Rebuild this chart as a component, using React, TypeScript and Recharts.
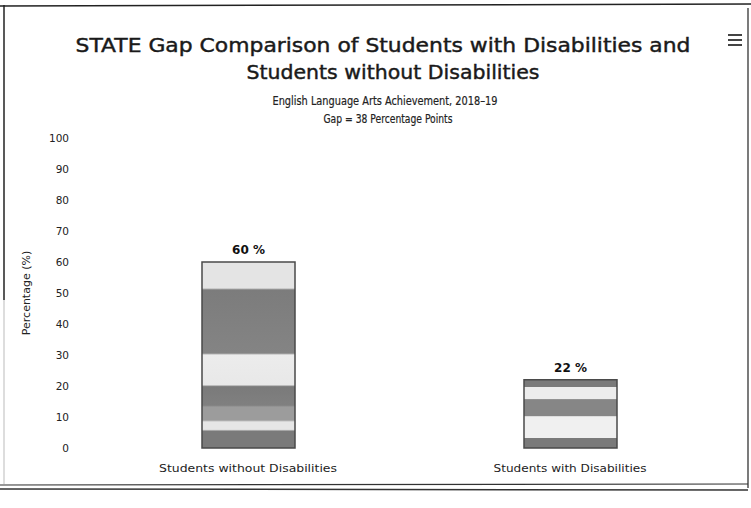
import { BarChart, Bar, XAxis, YAxis, Cell, LabelList } from 'recharts';

const categories = ['Students without Disabilities', 'Students with Disabilities'];
const percents = [60, 22];
const yTicks = [0, 10, 20, 30, 40, 50, 60, 70, 80, 90, 100];

const titleLines = ['STATE Gap Comparison of Students with Disabilities and', 'Students without Disabilities'];
const subtitleLines = ['English Language Arts Achievement, 2018\u201319', 'Gap = 38 Percentage Points'];

// light/dark halftone bands down each bar: [offset, colour]
const bandStops: [number, string][][] = [
  [
    [0, '#e4e4e4'], [0.14, '#e4e4e4'], [0.15, '#7c7c7c'], [0.49, '#848484'], [0.5, '#ececec'],
    [0.66, '#e8e8e8'], [0.67, '#7a7a7a'], [0.77, '#808080'], [0.78, '#9c9c9c'], [0.85, '#9c9c9c'],
    [0.86, '#e6e6e6'], [0.9, '#e6e6e6'], [0.91, '#7a7a7a'], [1, '#7a7a7a'],
  ],
  [
    [0, '#7a7a7a'], [0.1, '#7a7a7a'], [0.11, '#ececec'], [0.28, '#ececec'], [0.29, '#868686'],
    [0.53, '#868686'], [0.54, '#f0f0f0'], [0.85, '#f0f0f0'], [0.86, '#7a7a7a'], [1, '#7a7a7a'],
  ],
];

const catLabelWidth = [178, 153];

const CategoryTick = (props: any) => {
  const { x, y, payload, index } = props;
  return (
    <text
      x={x}
      y={y + 16}
      textAnchor="middle"
      fontSize={11}
      fill="#222"
      textLength={catLabelWidth[index]}
      lengthAdjust="spacingAndGlyphs"
    >
      {payload.value}
    </text>
  );
};

export default function App() {
  const data = categories.map((name, i) => ({ name, value: percents[i] }));

  return (
    <div
      style={{
        position: 'absolute',
        left: 0,
        top: 0,
        width: 751,
        height: 508,
        background: '#fff',
        fontFamily: '"DejaVu Sans", sans-serif',
      }}
    >
      <svg width={751} height={508} style={{ position: 'absolute', left: 0, top: 0 }}>
        <defs>
          {bandStops.map((stops, i) => (
            <linearGradient key={i} id={`band${i}`} x1="0" y1="0" x2="0" y2="1">
              {stops.map(([o, c], j) => (
                <stop key={j} offset={o} stopColor={c} />
              ))}
            </linearGradient>
          ))}
        </defs>
        {/* frame */}
        <line x1={0} y1={6} x2={751} y2={4} stroke="#222" strokeWidth={1.5} />
        <line x1={4} y1={5} x2={4} y2={300} stroke="#222" strokeWidth={1.5} />
        <line x1={4} y1={300} x2={4} y2={484} stroke="#bbb" strokeWidth={1} />
        <line x1={748} y1={8} x2={748} y2={488} stroke="#222" strokeWidth={1.2} />
        <line x1={0} y1={485} x2={748} y2={484} stroke="#333" strokeWidth={1.2} />
        <line x1={0} y1={489} x2={748} y2={490} stroke="#333" strokeWidth={1.5} />

        <g fill="#1a1a1a" stroke="#1a1a1a" strokeWidth={0.45} textAnchor="middle" fontSize={20}>
          <text x={383} y={52} textLength={615} lengthAdjust="spacingAndGlyphs">
            {titleLines[0]}
          </text>
          <text x={393} y={79} textLength={293} lengthAdjust="spacingAndGlyphs">
            {titleLines[1]}
          </text>
        </g>
        <g fill="#222" stroke="#222" strokeWidth={0.2} textAnchor="middle" fontSize={12}>
          <text x={385} y={105} textLength={225} lengthAdjust="spacingAndGlyphs">
            {subtitleLines[0]}
          </text>
          <text x={388} y={123} textLength={129} lengthAdjust="spacingAndGlyphs">
            {subtitleLines[1]}
          </text>
        </g>

        {/* menu button */}
        <g stroke="#444" strokeWidth={2}>
          <line x1={728} y1={35} x2={742} y2={35} />
          <line x1={728} y1={40} x2={742} y2={40} />
          <line x1={728} y1={45} x2={742} y2={45} />
        </g>
      </svg>

      <BarChart
        width={751}
        height={508}
        data={data}
        margin={{ top: 138, right: 20, bottom: 30, left: 20 }}
        style={{ position: 'absolute', left: 0, top: 0 }}
      >
        <XAxis dataKey="name" axisLine={false} tickLine={false} interval={0} height={30} tick={<CategoryTick />} />
        <YAxis
          domain={[0, 100]}
          ticks={yTicks}
          width={67}
          axisLine={false}
          tickLine={false}
          tickMargin={12}
          tick={{ fontSize: 10.5, fill: '#222' }}
          label={{
            value: 'Percentage (%)',
            angle: -90,
            position: 'insideLeft',
            offset: 6,
            style: { textAnchor: 'middle', fontSize: 11, fill: '#222' },
          }}
        />
        <Bar dataKey="value" barSize={93} isAnimationActive={false} stroke="#4a4a4a" strokeWidth={1.5}>
          {data.map((d, i) => (
            <Cell key={d.name} fill={`url(#band${i})`} />
          ))}
          <LabelList
            dataKey="value"
            position="top"
            offset={8}
            formatter={(v: any) => `${v} %`}
            style={{ fontWeight: 700, fontSize: 12, fill: '#111' }}
          />
        </Bar>
      </BarChart>
    </div>
  );
}
